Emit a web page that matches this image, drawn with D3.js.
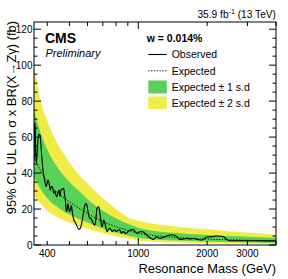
<!DOCTYPE html>
<html><head><meta charset="utf-8">
<script src="https://cdn.jsdelivr.net/npm/d3@7"></script>
<style>
html,body{margin:0;padding:0;background:#fff;}
svg{display:block;font-family:"Liberation Sans",Arial,Helvetica,sans-serif;}
</style></head>
<body>
<svg id="c" width="288" height="279"></svg>
<script>
// ---- data ----
const bandMass = [350, 375, 400, 450, 500, 550, 600, 700, 800, 900, 1000, 1200, 1500, 2000, 2500, 3000, 3500, 4000];
const expected = [49, 41, 35, 28.5, 24, 20.5, 17.5, 13, 10.2, 8.1, 6.6, 5.1, 4.1, 3.3, 2.9, 2.65, 2.5, 2.4];
const plus1 = [75, 62, 53, 42, 35, 30, 25.5, 19, 14.8, 11.8, 9.6, 7.6, 6.5, 5.6, 5.0, 4.6, 4.3, 4.1];
const minus1 = [38, 31, 26, 20.5, 17, 14.5, 12.5, 9.2, 7, 5.3, 4.1, 3.1, 2.5, 1.9, 1.6, 1.4, 1.3, 1.3];
const plus2 = [100, 80, 69, 55, 46, 39, 34, 26, 20, 15.5, 13.5, 11.5, 10.2, 8.7, 7.6, 6.9, 6.3, 5.9];
const minus2 = [27, 23, 19, 15, 12.5, 10.5, 9, 6.5, 4.9, 3.6, 2.5, 1.8, 1.4, 1.0, 0.8, 0.7, 0.6, 0.6];

const obsMass = [350, 352, 354, 356, 359, 363, 367, 372, 377, 383, 388, 391, 395, 399, 403, 407, 412, 417, 421, 427, 432, 437, 441, 446, 450, 455, 459, 465, 472, 476, 480, 485, 489, 493, 497, 501, 505, 510, 514, 520, 533, 545, 551, 558, 569, 578, 583, 593, 603, 613, 621, 630, 645, 652, 660, 672, 678, 683, 692, 700, 706, 718, 730, 740, 750, 760, 770, 781, 792, 800, 808, 818, 830, 843, 855, 867, 877, 887, 900, 918, 935, 951, 968, 985, 1000, 1018, 1035, 1052, 1070, 1090, 1107, 1134, 1164, 1185, 1204, 1225, 1245, 1287, 1332, 1377, 1424, 1450, 1473, 1500, 1523, 1574, 1629, 1684, 1741, 1802, 1863, 1926, 1979, 2061, 2130, 2189, 2279, 2356, 2438, 2520, 2981, 3500, 4000];
const observed = [47, 66, 68, 52, 46, 56, 61.5, 61, 52, 41.7, 37, 35, 32.5, 34, 36, 35, 30.5, 32.5, 32.4, 28.7, 30, 27.5, 26.8, 29.5, 30.5, 27, 30.5, 31, 31.5, 28, 25, 18.5, 20, 23, 20, 18.5, 20, 22, 19, 15, 12, 9.3, 8.7, 9.3, 13.9, 19.5, 22, 23, 18.5, 14.8, 14.8, 13, 11, 14, 20.4, 21.3, 18.5, 15.7, 10.2, 11.5, 13.9, 11, 7.4, 8.5, 9.3, 8.5, 7.4, 8.3, 8.3, 7.4, 7.8, 8.3, 8.3, 6.5, 7.4, 7.2, 6.5, 6.5, 7.4, 8.3, 8.4, 8.6, 7.5, 6.5, 7, 7.4, 7.4, 7.2, 6.5, 5.5, 4.6, 3.7, 3.1, 3.8, 4.6, 4.0, 3.7, 4.3, 5, 5.6, 5.6, 5.3, 4.6, 3.6, 3.1, 3.3, 3.7, 3.4, 3.6, 3.1, 2.8, 3.1, 4.3, 4.6, 4.7, 5, 4.9, 4.6, 3.1, 2.4, 2.4, 2.3, 2.3];

const xLabelTicks = [400, 1000, 2000, 3000];
const xMinorTicks = [400, 500, 600, 700, 800, 900, 2000, 3000, 4000];
const xMajorTicks = [1000];
const yTicks = [0, 20, 40, 60, 80, 100, 120];

// ---- layout ----
const L = 34, R = 276, T = 22, B = 245;
const svg = d3.select("#c");
const x = d3.scaleLog().domain([350, 4000]).range([L, R]);
const y = d3.scaleLinear().domain([0, 124]).range([B, T]);

const green = "#57d157", yellow = "#efec47";

svg.append("defs").append("clipPath").attr("id", "clip")
  .append("rect").attr("x", L).attr("y", T).attr("width", R - L).attr("height", B - T);
const g = svg.append("g").attr("clip-path", "url(#clip)");

const bandIdx = d3.range(bandMass.length);
const area = (hi, lo) => d3.area().curve(d3.curveMonotoneX)
  .x(i => x(bandMass[i])).y0(i => y(lo[i])).y1(i => y(hi[i]));
g.append("path").attr("d", area(plus2, minus2)(bandIdx)).attr("fill", yellow);
g.append("path").attr("d", area(plus1, minus1)(bandIdx)).attr("fill", green);

g.append("path").attr("d", d3.line().curve(d3.curveMonotoneX)
  .x(i => x(bandMass[i])).y(i => y(expected[i]))(bandIdx))
  .attr("fill", "none").attr("stroke", "#000").attr("stroke-width", 1).attr("stroke-dasharray", "1.2,1.6");

const obsIdx = d3.range(obsMass.length);
g.append("path").attr("d", d3.line().curve(d3.curveMonotoneX)
  .x(i => x(obsMass[i])).y(i => y(observed[i]))(obsIdx))
  .attr("fill", "none").attr("stroke", "#000").attr("stroke-width", 1.1);

// ---- frame & ticks ----
const ax = svg.append("g").attr("stroke", "#000").attr("stroke-width", 1);
ax.append("rect").attr("x", L).attr("y", T).attr("width", R - L).attr("height", B - T).attr("fill", "none");

const tk = (x1, y1, x2, y2) => ax.append("line").attr("x1", x1).attr("y1", y1).attr("x2", x2).attr("y2", y2);
xMinorTicks.forEach(v => { const px = x(v); tk(px, B, px, B - 4); tk(px, T, px, T + 4); });
xMajorTicks.forEach(v => { const px = x(v); tk(px, B, px, B - 7); tk(px, T, px, T + 7); });
d3.range(0, 125, 5).forEach(v => {
  const len = v % 20 === 0 ? 7 : 3.5; const py = y(v);
  tk(L, py, L + len, py); tk(R, py, R - len, py);
});

// tick labels
svg.append("g").selectAll("text").data(xLabelTicks).join("text")
  .attr("x", d => x(d)).attr("y", 256.5).attr("text-anchor", "middle")
  .attr("font-size", 10).text(d => d);
svg.append("g").selectAll("text").data(yTicks).join("text")
  .attr("x", 32.5).attr("y", d => y(d) + 3.6).attr("text-anchor", "end")
  .attr("font-size", 10).text(d => d);

// axis titles
svg.append("text").attr("x", R).attr("y", 273).attr("text-anchor", "end")
  .attr("font-size", 12.9).text("Resonance Mass (GeV)");
svg.append("text").attr("transform", "translate(15.5,21) rotate(-90)").attr("text-anchor", "end")
  .attr("font-size", 12.9).text("95% CL UL on σ x BR(X→Zγ) (fb)");

// header
const hdr = svg.append("text").attr("x", R).attr("y", 18.3).attr("text-anchor", "end").attr("font-size", 10.2);
hdr.append("tspan").text("35.9 fb");
hdr.append("tspan").attr("font-size", 7).attr("dy", -4).text("-1");
hdr.append("tspan").attr("dy", 4).text(" (13 TeV)");

svg.append("text").attr("x", 45).attr("y", 42.7).attr("font-size", 14).attr("font-weight", "bold").text("CMS");
svg.append("text").attr("x", 45.5).attr("y", 56.7).attr("font-size", 11).attr("font-style", "italic").text("Preliminary");

// legend
svg.append("text").attr("x", 146.7).attr("y", 41.7).attr("font-size", 10.5).attr("font-weight", "bold").text("w = 0.014%");
const lx = 148.3, lw = 18.5, tx = 171.7;
const leg = svg.append("g");
leg.append("line").attr("x1", lx).attr("x2", lx + lw).attr("y1", 54.5).attr("y2", 54.5).attr("stroke", "#000").attr("stroke-width", 1.1);
leg.append("line").attr("x1", lx).attr("x2", lx + lw).attr("y1", 70.8).attr("y2", 70.8).attr("stroke", "#000").attr("stroke-width", 1).attr("stroke-dasharray", "1.2,1.6");
leg.append("rect").attr("x", lx).attr("y", 80.5).attr("width", lw).attr("height", 13).attr("fill", green);
leg.append("rect").attr("x", lx).attr("y", 96.5).attr("width", lw).attr("height", 12.5).attr("fill", yellow);
const labels = ["Observed", "Expected", "Expected ± 1 s.d", "Expected ± 2 s.d"];
const bl = [58.3, 74.5, 90.8, 107];
labels.forEach((t, i) => leg.append("text").attr("x", tx).attr("y", bl[i]).attr("font-size", 10.5).text(t));
</script>
</body></html>
